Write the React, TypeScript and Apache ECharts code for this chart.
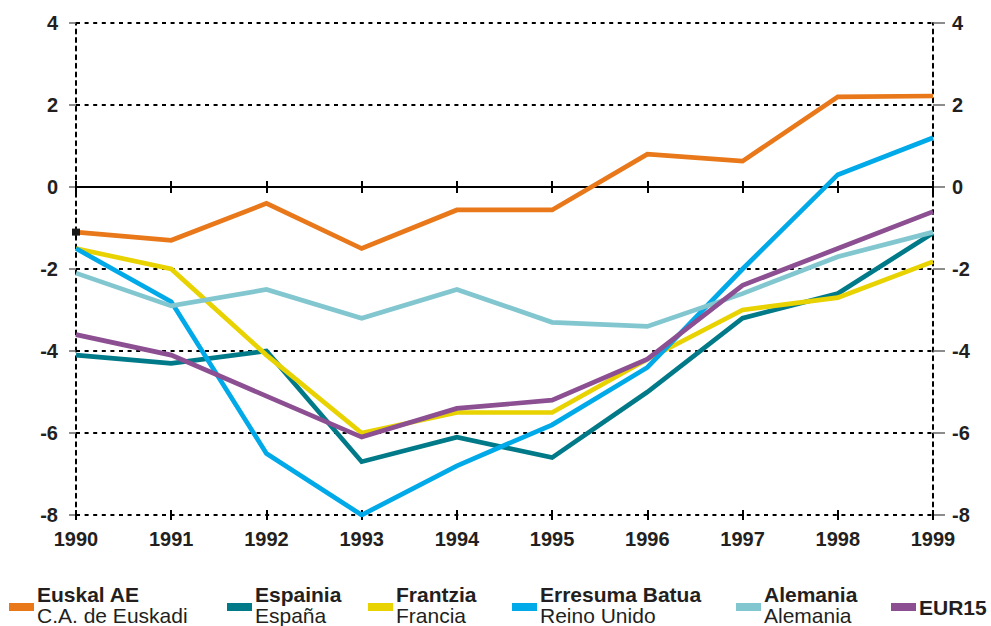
import React, { useEffect, useRef } from "react";
import * as echarts from "echarts";

const years = ["1990", "1991", "1992", "1993", "1994", "1995", "1996", "1997", "1998", "1999"];
const yTicks = [-8, -6, -4, -2, 0, 2, 4];

const euskadi = [-1.1, -1.3, -0.4, -1.5, -0.56, -0.56, 0.8, 0.63, 2.2, 2.22];
const espana = [-4.1, -4.3, -4.0, -6.7, -6.1, -6.6, -5.0, -3.2, -2.6, -1.12];
const francia = [-1.5, -2.0, -4.1, -6.0, -5.5, -5.5, -4.2, -3.0, -2.7, -1.82];
const reinoUnido = [-1.5, -2.8, -6.5, -8.0, -6.8, -5.8, -4.4, -2.0, 0.3, 1.2];
const alemania = [-2.1, -2.9, -2.5, -3.2, -2.5, -3.3, -3.4, -2.6, -1.7, -1.1];
const eur15 = [-3.6, -4.1, -5.1, -6.1, -5.4, -5.2, -4.2, -2.4, -1.5, -0.6];

const seriesNames = ["Euskal AE", "Espainia", "Frantzia", "Erresuma Batua", "Alemania", "EUR15"];
const seriesSubNames = ["C.A. de Euskadi", "España", "Francia", "Reino Unido", "Alemania", ""];
const seriesData = [euskadi, espana, francia, reinoUnido, alemania, eur15];
const seriesColors = ["#E8781A", "#007A88", "#E8D200", "#00A9E8", "#82C7D0", "#8C4F92"];

// layout of the legend (pixel positions)
const legendX = [9, 227, 368, 512, 736, 891];

const FONT = "'Liberation Sans', Arial, sans-serif";
const TXT = "#231F20";

export default function App() {
  const ref = useRef<HTMLDivElement>(null);

  useEffect(() => {
    document.body.style.margin = "0";
    if (!ref.current) return;
    const chart = echarts.init(ref.current, undefined, { renderer: "svg" });

    const dotted = { color: "#000", width: 2, type: [4, 4.6] as any };

    const yAxisBase = (pos: "left" | "right") => ({
      type: "value",
      position: pos,
      min: -8,
      max: 4,
      interval: 2,
      axisLine: { show: true, onZero: false, lineStyle: dotted },
      axisTick: { show: true, length: pos === "left" ? 7 : 12, lineStyle: { color: "#666", width: 1.5 } },
      axisLabel: {
        show: true,
        margin: pos === "left" ? 18 : 19,
        fontFamily: FONT,
        fontWeight: "bold",
        fontSize: 20,
        color: TXT,
        formatter: (v: number) => (yTicks.includes(v) ? String(v) : ""),
      },
      splitLine: { show: pos === "left", lineStyle: dotted },
    });

    const tickStyle = { color: "#000", width: 2 };

    const series: any[] = seriesNames.map((name, i) => ({
      name,
      type: "line",
      xAxisIndex: 0,
      yAxisIndex: 0,
      symbol: "none",
      data: seriesData[i].map((v, j) =>
        i === 0 && j === 0
          ? { value: v, symbol: "rect", symbolSize: [8, 7], itemStyle: { color: "#1a1a1a" } }
          : v
      ),
      lineStyle: { color: seriesColors[i], width: 4.7, cap: "butt", join: "miter" },
      itemStyle: { color: seriesColors[i] },
      z: 3 + i,
    }));

    const graphic: any[] = [];
    seriesNames.forEach((name, i) => {
      const x = legendX[i];
      graphic.push({
        type: "rect",
        shape: { x, y: 603, width: 25, height: 8 },
        style: { fill: seriesColors[i] },
      });
      const single = !seriesSubNames[i];
      graphic.push({
        type: "text",
        x: x + 28,
        y: single ? 607 : 594,
        style: {
          text: name,
          font: `bold 21px ${FONT}`,
          fill: TXT,
          textVerticalAlign: "middle",
          verticalAlign: "middle",
        },
      });
      if (!single) {
        graphic.push({
          type: "text",
          x: x + 28,
          y: 615,
          style: {
            text: seriesSubNames[i],
            font: `21px ${FONT}`,
            fill: TXT,
            textVerticalAlign: "middle",
            verticalAlign: "middle",
          },
        });
      }
    });

    chart.setOption({
      animation: false,
      backgroundColor: "#fff",
      grid: { left: 76, right: 58, top: 23, bottom: 111, containLabel: false },
      xAxis: [
        {
          type: "category",
          data: years,
          boundaryGap: false,
          position: "bottom",
          axisLine: { show: false, onZero: false },
          axisTick: { show: true, length: 5, lineStyle: tickStyle },
          axisLabel: { margin: 14, fontFamily: FONT, fontWeight: "bold", fontSize: 20, color: TXT },
          splitLine: { show: false },
        },
        {
          type: "category",
          data: years,
          boundaryGap: false,
          position: "bottom",
          axisLine: { show: false, onZero: false },
          axisTick: { show: true, inside: true, length: 5, lineStyle: tickStyle },
          axisLabel: { show: false },
          splitLine: { show: false },
        },
        {
          type: "category",
          data: years,
          boundaryGap: false,
          position: "bottom",
          axisLine: { show: true, onZero: true, onZeroAxisIndex: 0, lineStyle: { color: "#000", width: 2 } },
          axisTick: { show: true, length: 6, lineStyle: tickStyle },
          axisLabel: { show: false },
          splitLine: { show: false },
        },
        {
          type: "category",
          data: years,
          boundaryGap: false,
          position: "bottom",
          axisLine: { show: false, onZero: true, onZeroAxisIndex: 0 },
          axisTick: { show: true, inside: true, length: 6, lineStyle: tickStyle },
          axisLabel: { show: false },
          splitLine: { show: false },
        },
      ],
      yAxis: [yAxisBase("left"), yAxisBase("right")],
      series,
      graphic,
    });

    return () => chart.dispose();
  }, []);

  return <div ref={ref} style={{ width: 991, height: 626 }} />;
}
